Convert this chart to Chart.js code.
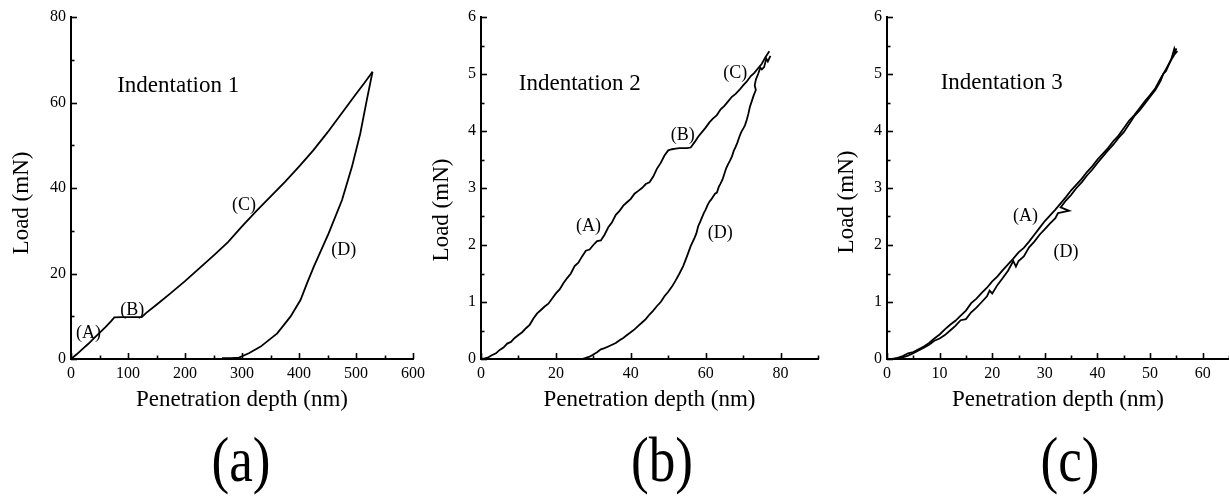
<!DOCTYPE html>
<html>
<head>
<meta charset="utf-8">
<script src="https://cdn.jsdelivr.net/npm/chart.js@4.4.0/dist/chart.umd.min.js"></script>
<style>
  html, body { margin: 0; padding: 0; background: #fff; }
  body { width: 1229px; height: 496px; position: relative; overflow: hidden; }
  canvas { position: absolute; top: 0; }
  .plabel { position: absolute; font-family: 'Liberation Serif', 'Times New Roman', serif; font-size: 56px; line-height: 1; color: #000; transform: translate(-50%, -50%) scale(0.95, 1.12); white-space: nowrap; }
</style>
</head>
<body>
<canvas id="ca" width="430" height="430" style="left:0px"></canvas>
<canvas id="cb" width="410" height="430" style="left:420px"></canvas>
<canvas id="cc" width="404" height="430" style="left:825px"></canvas>
<div class="plabel" style="left:241px; top:460px">(a)</div>
<div class="plabel" style="left:662px; top:460px">(b)</div>
<div class="plabel" style="left:1070px; top:460px">(c)</div>
<script>
// ---------- Panel (a): Indentation 1 ----------
const A_LOAD_DEPTH = [0,10,20,30,40,50,60,70,76,90,110,124,132,150,175,200,225,250,275,300,325,350,375,400,425,450,475,500,515,529];
const A_LOAD_FORCE = [0,1.1,2.3,3.5,4.8,6.1,7.4,8.8,9.75,9.8,9.8,9.8,10.8,12.7,15.4,18.2,21.2,24.2,27.3,31.0,34.6,38.0,41.4,45.0,48.8,53.0,57.5,62.0,64.6,67.2];
const A_UNLOAD_DEPTH = [529,519,507.6,493,475.5,452,426,414,402.6,385,361.8,332.7,312,294.7,280,265];
const A_UNLOAD_FORCE = [67.2,60.6,52.8,45.0,37.2,29.4,21.6,17.7,13.8,9.9,6.0,2.9,1.35,0.33,0.2,0.2];

// ---------- Panel (b): Indentation 2 ----------
const B_LOAD_DEPTH = [0,1,2,3,4,5,6,7,8,9,10,11,12,13,14,15,16,17,18,19,20,21,22,23,24,25,26,27,28,29,30,31,32,33,34,35,36,37,38,39,40,41,42,43,44,45,46,47,48,49,50,51,52,53,54,55,56,57,58,59,60,61,62,63,64,65,66,67,68,69,70,71,72,73,74,75,76,77];
const B_LOAD_FORCE = [0,0.01,0.03,0.07,0.1,0.16,0.2,0.27,0.3,0.37,0.42,0.47,0.54,0.6,0.71,0.8,0.86,0.92,0.97,1.06,1.15,1.22,1.33,1.42,1.5,1.63,1.69,1.8,1.9,1.92,2.0,2.07,2.08,2.18,2.31,2.4,2.53,2.6,2.69,2.75,2.81,2.9,2.95,3.0,3.07,3.1,3.2,3.34,3.44,3.57,3.66,3.68,3.69,3.7,3.7,3.7,3.71,3.8,3.9,3.98,4.06,4.15,4.22,4.28,4.38,4.44,4.52,4.6,4.65,4.72,4.8,4.87,4.96,5.02,5.1,5.18,5.3,5.4];
const B_UNLOAD_DEPTH = [77.3,76.6,76.2,75.6,75.0,74.6,74.0,73.4,73.1,73.4,72.8,72.3,71.8,71.4,71.0,70.5,70.1,69.5,69.0,68.5,68.0,67.5,67.0,66.5,66.0,65.5,65.0,64.5,64.0,63.5,63.0,62.5,62.0,61.5,61.0,60.5,60.0,59.5,59.0,58.5,58.0,57.5,57.0,56.0,55.0,54.0,53.0,52.0,51.0,50.0,49.0,48.0,47.0,46.0,45.0,44.0,43.0,42.0,41.0,40.0,39.0,38.0,37.0,36.0,35.0,34.0,33.0,32.0,31.0,30.0,29.0,28.0,27.0,25.0,23.0];
const B_UNLOAD_FORCE = [5.32,5.22,5.27,5.12,5.08,5.11,5.0,4.9,4.8,4.72,4.62,4.52,4.42,4.3,4.2,4.1,4.05,3.98,3.9,3.8,3.72,3.65,3.55,3.48,3.42,3.35,3.25,3.15,3.08,3.02,2.92,2.9,2.85,2.8,2.76,2.7,2.62,2.56,2.48,2.4,2.33,2.2,2.12,1.98,1.8,1.63,1.5,1.38,1.27,1.18,1.1,1.0,0.93,0.85,0.78,0.7,0.64,0.58,0.52,0.47,0.42,0.37,0.33,0.28,0.25,0.22,0.19,0.17,0.12,0.08,0.04,0.02,0.0,0.0,0.0];

// ---------- Panel (c): Indentation 3 ----------
const C_LOAD_DEPTH = [0,1,2,3,4,5,6,7,8,9,10,11,12,13,14,15,16,17,18,19,20,21,22,23,24,25,26,27,28,29,30,31,32,33,34,35,36,37,38,39,40,41,42,43,44,45,46,47,48,49,50,51,52,53,54,54.5,55];
const C_LOAD_FORCE = [0,0,0.02,0.05,0.1,0.12,0.17,0.22,0.28,0.36,0.43,0.52,0.6,0.67,0.76,0.85,0.98,1.06,1.16,1.25,1.36,1.45,1.56,1.66,1.76,1.87,1.95,2.06,2.18,2.3,2.42,2.52,2.62,2.73,2.84,2.96,3.06,3.16,3.28,3.38,3.5,3.6,3.7,3.82,3.92,4.05,4.18,4.28,4.4,4.52,4.63,4.75,4.92,5.08,5.25,5.32,5.45];
const C_UNLOAD_DEPTH = [55.2,54.8,54.6,54,53,52.5,52,51,50,49,48,47,46,45,44,43,42,41,40,39,38,37,36,35,34,33,34.6,32.5,32,31,30,29,28,27,26,25,24.5,24,23,22,21,20,19.5,19,18,17,16,15,14,13,12,11,10,9,8,7,6,5,4,3,2,1.5];
const C_UNLOAD_FORCE = [5.4,5.36,5.44,5.25,5.05,5.0,4.88,4.72,4.6,4.48,4.36,4.26,4.12,3.98,3.88,3.76,3.66,3.55,3.44,3.32,3.22,3.1,3.0,2.88,2.78,2.66,2.6,2.56,2.47,2.38,2.28,2.18,2.06,1.96,1.8,1.72,1.62,1.72,1.55,1.42,1.3,1.15,1.2,1.1,1.0,0.9,0.82,0.7,0.68,0.58,0.5,0.42,0.36,0.32,0.25,0.2,0.15,0.1,0.06,0.03,0.01,0];

// ---------- Text ----------
const X_TITLE = 'Penetration depth (nm)';
const Y_TITLE = 'Load (mN)';

const SERIF = "'Liberation Serif', 'Times New Roman', serif";

function pts(xs, ys) { return xs.map((x, i) => ({ x: x, y: ys[i] })); }

const inwardTicks = {
  id: 'inwardTicks',
  afterDatasetsDraw(chart, args, o) {
    const { ctx, chartArea, scales } = chart;
    const x = scales.x, y = scales.y;
    ctx.save();
    ctx.strokeStyle = '#000';
    ctx.lineWidth = 1.6;
    const nx = Math.round((x.max - x.min) / o.xMinor);
    for (let i = 0; i <= nx; i++) {
      const v = x.min + i * o.xMinor;
      const major = Math.abs(v / o.xMajor - Math.round(v / o.xMajor)) < 1e-6;
      const px = Math.round(x.getPixelForValue(v)) + 0.5;
      ctx.beginPath();
      ctx.moveTo(px, chartArea.bottom);
      ctx.lineTo(px, chartArea.bottom - (major ? 6 : 3.5));
      ctx.stroke();
    }
    const ny = Math.round((y.max - y.min) / o.yMinor);
    for (let i = 0; i <= ny; i++) {
      const v = y.min + i * o.yMinor;
      const major = Math.abs(v / o.yMajor - Math.round(v / o.yMajor)) < 1e-6;
      const py = Math.round(y.getPixelForValue(v)) + 0.5;
      ctx.beginPath();
      ctx.moveTo(chartArea.left, py);
      ctx.lineTo(chartArea.left + (major ? 6 : 3.5), py);
      ctx.stroke();
    }
    ctx.restore();
  }
};

const notes = {
  id: 'notes',
  afterDatasetsDraw(chart, args, o) {
    const { ctx, scales } = chart;
    ctx.save();
    ctx.fillStyle = '#000';
    ctx.textAlign = 'center';
    ctx.textBaseline = 'middle';
    (o.items || []).forEach(it => {
      ctx.font = it.size + 'px ' + SERIF;
      ctx.fillText(it.text, scales.x.getPixelForValue(it.x), scales.y.getPixelForValue(it.y));
    });
    ctx.font = o.yTitleSize + 'px ' + SERIF;
    ctx.translate(o.yTitleX, o.yTitleY);
    ctx.rotate(-Math.PI / 2);
    ctx.fillText(Y_TITLE, 0, 0);
    ctx.restore();
  }
};

function makeChart(id, cfg) {
  const tickFont = { family: SERIF, size: 16 };
  return new Chart(document.getElementById(id), {
    type: 'scatter',
    data: {
      datasets: cfg.series.map(s => ({
        data: s,
        showLine: true,
        borderColor: '#000',
        borderWidth: 1.8,
        pointRadius: 0,
        tension: 0,
        fill: false
      }))
    },
    options: {
      responsive: false,
      animation: false,
      events: [],
      layout: { padding: { left: 0, right: cfg.padRight, top: 17, bottom: 0 } },
      plugins: {
        legend: { display: false },
        tooltip: { enabled: false },
        inwardTicks: { xMajor: cfg.xStep, xMinor: cfg.xStep / 2, yMajor: cfg.yStep, yMinor: cfg.yStep / 2 },
        notes: { items: cfg.notes, yTitleX: 22, yTitleY: cfg.yTitleY, yTitleSize: 23 }
      },
      scales: {
        x: {
          type: 'linear', min: 0, max: cfg.xMax,
          ticks: { stepSize: cfg.xStep, font: tickFont, color: '#000', padding: 5, maxRotation: 0, autoSkip: false, includeBounds: false },
          grid: { display: false, drawTicks: false },
          border: { display: true, color: '#000', width: 2 },
          title: { display: true, text: X_TITLE, color: '#000', font: { family: SERIF, size: 23 }, padding: { top: 0, bottom: 16 } },
          afterFit(s) { s.height = 71; }
        },
        y: {
          type: 'linear', min: 0, max: cfg.yMax,
          ticks: { stepSize: cfg.yStep, font: tickFont, color: '#000', padding: 5, autoSkip: false, includeBounds: false },
          grid: { display: false, drawTicks: false },
          border: { display: true, color: '#000', width: 2 },
          afterFit(s) { s.width = cfg.yWidth; }
        }
      }
    },
    plugins: [inwardTicks, notes]
  });
}

makeChart('ca', {
  series: [pts(A_LOAD_DEPTH, A_LOAD_FORCE), pts(A_UNLOAD_DEPTH, A_UNLOAD_FORCE)],
  xMax: 600, xStep: 100, yMax: 80, yStep: 20, yWidth: 71, padRight: 17, yTitleY: 203,
  notes: [
    { text: 'Indentation 1', x: 188, y: 63.9, size: 23 },
    { text: '(A)', x: 30.6, y: 6.0, size: 18 },
    { text: '(B)', x: 107.6, y: 11.5, size: 18 },
    { text: '(C)', x: 303.5, y: 36.0, size: 18 },
    { text: '(D)', x: 478.4, y: 25.5, size: 18 }
  ]
});

makeChart('cb', {
  series: [pts(B_LOAD_DEPTH, B_LOAD_FORCE), pts(B_UNLOAD_DEPTH, B_UNLOAD_FORCE)],
  xMax: 90, xStep: 20, yMax: 6, yStep: 1, yWidth: 61, padRight: 12, yTitleY: 210,
  notes: [
    { text: 'Indentation 2', x: 26.4, y: 4.82, size: 23 },
    { text: '(A)', x: 28.7, y: 2.32, size: 18 },
    { text: '(B)', x: 53.9, y: 3.93, size: 18 },
    { text: '(C)', x: 67.9, y: 5.01, size: 18 },
    { text: '(D)', x: 63.9, y: 2.2, size: 18 }
  ]
});

makeChart('cc', {
  series: [pts(C_LOAD_DEPTH, C_LOAD_FORCE), pts(C_UNLOAD_DEPTH, C_UNLOAD_FORCE)],
  xMax: 65, xStep: 10, yMax: 6, yStep: 1, yWidth: 62, padRight: 0, yTitleY: 202,
  notes: [
    { text: 'Indentation 3', x: 21.8, y: 4.85, size: 23 },
    { text: '(A)', x: 26.3, y: 2.5, size: 18 },
    { text: '(D)', x: 34.0, y: 1.88, size: 18 }
  ]
});
</script>
</body>
</html>
